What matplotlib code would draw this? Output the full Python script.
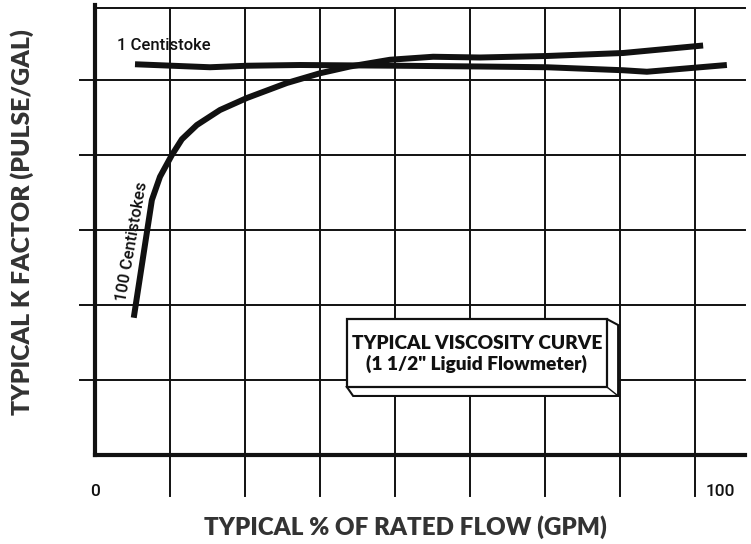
import matplotlib
matplotlib.use("Agg")
import matplotlib.pyplot as plt
from matplotlib.patches import Polygon, Rectangle

# ---- data ----
x_gridlines = [12, 24, 36, 48, 60, 72, 84, 96]
y_gridlines = [1, 2, 3, 4, 5]
x_tick_pos = [0, 100]
x_tick_labels = ["0", "100"]

cst1_x = [6.4, 18.4, 24.3, 32.8, 48.8, 61.6, 72.3, 84.5, 88.3, 101.1]
cst1_y = [5.21, 5.17, 5.19, 5.20, 5.19, 5.18, 5.17, 5.13, 5.11, 5.20]

cst100_x = [6.2, 9.1, 10.4, 12.3, 13.9, 16.3, 20.0, 24.3, 30.7, 36.0, 40.8, 47.2, 54.1, 61.6, 72.3, 84.5, 97.3]
cst100_y = [1.83, 3.40, 3.71, 4.00, 4.21, 4.40, 4.60, 4.76, 4.96, 5.09, 5.18, 5.27, 5.31, 5.30, 5.32, 5.36, 5.46]

ink = "#111111"

fig = plt.figure(figsize=(7.51, 5.44), dpi=100)
W, H = 751, 544
ax = fig.add_axes([95 / W, (H - 455) / H, 650 / W, 450 / H])
ax.set_xlim(0, 104)
ax.set_ylim(0, 6)
for s in ["top", "right"]:
    ax.spines[s].set_visible(False)
for s in ["left", "bottom"]:
    ax.spines[s].set_linewidth(3)
    ax.spines[s].set_color(ink)
    ax.spines[s].set_capstyle("projecting")

# top border line
ax.plot([0, 104], [5.96, 5.96], color=ink, lw=1.4, clip_on=False, zorder=1)

# grid lines, extended beyond the axes as ticks
for gx in x_gridlines:
    ax.plot([gx, gx], [-0.55, 5.96], color=ink, lw=1.4, clip_on=False, zorder=1)
for gy in y_gridlines:
    ax.plot([-2.4, 104], [gy, gy], color=ink, lw=1.4, clip_on=False, zorder=1)

# curves
ax.plot(cst1_x, cst1_y, color=ink, lw=4.3, solid_capstyle="butt",
        solid_joinstyle="round", zorder=3)
ax.plot(cst100_x, cst100_y, color=ink, lw=4.3, solid_capstyle="butt",
        solid_joinstyle="round", zorder=3)

narrow = ["Roboto", "DejaVu Sans"]
ax.text(3.5, 5.46, "1 Centistoke", fontsize=12, family=narrow, weight=500,
        color=ink, ha="left", va="center")
ax.text(6.0, 2.85, "100 Centistokes", fontsize=12, family=narrow, weight=500,
        color=ink, ha="center", va="center", rotation=80)

# ticks
ax.set_xticks(x_tick_pos)
ax.set_xticklabels(x_tick_labels, family=narrow, fontsize=12.5, color=ink,
                   weight=500)
ax.tick_params(axis="x", length=0, pad=21)
ax.set_yticks([])

# 3D box
fx0, fy0, fx1, fy1 = 40.3, 0.907, 81.9, 1.813
side = Polygon([(fx1, fy1), (83.7, 1.733), (83.7, 0.787), (41.3, 0.787), (fx0, fy0)],
               closed=True, facecolor="white", edgecolor=ink, lw=1.5, zorder=4)
ax.add_patch(side)
front = Rectangle((fx0, fy0), fx1 - fx0, fy1 - fy0, facecolor="white",
                  edgecolor=ink, lw=1.6, zorder=5)
ax.add_patch(front)
ax.plot([fx1, 83.7], [fy0, 0.787], color=ink, lw=1.0, zorder=6)
bold = ["Lato", "DejaVu Sans"]
cx = (fx0 + fx1) / 2
ax.text(cx, 1.493, "TYPICAL VISCOSITY CURVE", fontsize=13.8,
        family=bold, weight="heavy", color=ink, ha="center", va="center", zorder=6)
ax.text(cx, 1.213, '(1 1/2" Liguid Flowmeter)', fontsize=13.8,
        family=bold, weight="heavy", color=ink, ha="center", va="center", zorder=6)

# axis labels
fig.text(22 / W, 1 - 222 / H, "TYPICAL K FACTOR (PULSE/GAL)", rotation=90,
         fontsize=17.8, family=bold, weight="heavy", color="#333333",
         ha="center", va="center")
fig.text(405 / W, 1 - 527 / H, "TYPICAL % OF RATED FLOW (GPM)",
         fontsize=17.4, family=bold, weight="heavy", color="#333333",
         ha="center", va="center")

fig.savefig("out.png", dpi=100, facecolor="white")
